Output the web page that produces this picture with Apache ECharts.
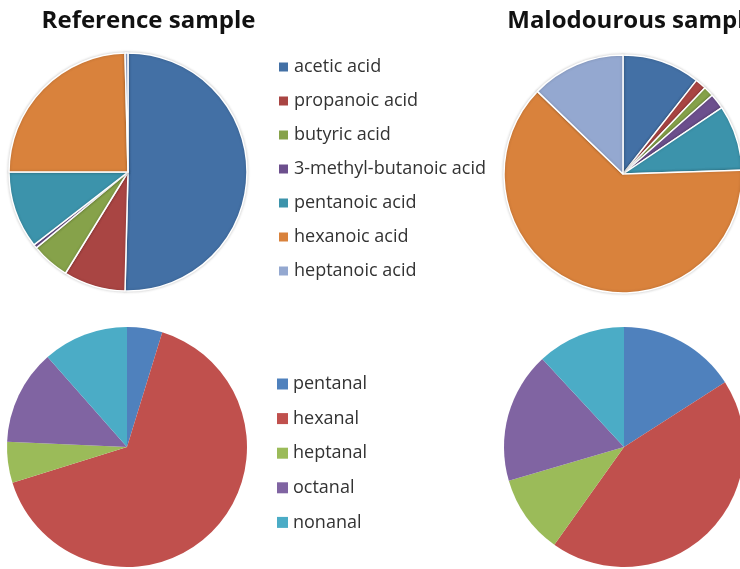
<!DOCTYPE html>
<html>
<head>
<meta charset="utf-8">
<script src="https://cdn.jsdelivr.net/npm/echarts@6/dist/echarts.min.js"></script>
<style>html,body{margin:0;padding:0;background:#fff}#chart{width:740px;height:569px}</style>
</head>
<body>
<div id="chart"></div>
<script>
const acidNames = ['acetic acid','propanoic acid','butyric acid','3-methyl-butanoic acid','pentanoic acid','hexanoic acid','heptanoic acid'];
const acidReference = [50.4, 8.4, 5.2, 0.5, 10.5, 24.6, 0.4];
const acidMalodourous = [10.6, 1.5, 1.4, 2.1, 8.9, 62.8, 12.8];
const aldehydeNames = ['pentanal','hexanal','heptanal','octanal','nonanal'];
const aldehydeReference = [4.75, 65.4, 5.5, 12.8, 11.5];
const aldehydeMalodourous = [15.9, 43.9, 10.6, 17.6, 11.9];
const titles = ['Reference sample','Malodourous sample'];

const acidColors = ['#4370a5','#a94543','#86a24a','#6c4f8d','#3c93ab','#d9823c','#94a8d0'];
const aldColors = ['#4f81bd','#c0504d','#9bbb59','#8064a2','#4bacc6'];

function mk(names, vals, colors){
  return names.map((n,i)=>({name:n, value:vals[i], itemStyle:{color:colors[i]}}));
}
const font = '"Open Sans", "Noto Sans", sans-serif';
const chart = echarts.init(document.getElementById('chart'));
const pieBase = {type:'pie', startAngle:90, clockwise:true, label:{show:false}, labelLine:{show:false}, animation:false, emphasis:{scale:false}};
chart.setOption({
  backgroundColor:'#fff',
  animation:false,
  title:[
    {text:titles[0], left:143.5, top:4, textAlign:'center', textStyle:{fontFamily:font, fontWeight:'bold', fontSize:24, color:'#111'}},
    {text:titles[1], left:628, top:4, textAlign:'center', textStyle:{fontFamily:font, fontWeight:'bold', fontSize:24, color:'#111'}}
  ],
  legend:[
    {data:acidNames, orient:'vertical', left:272, top:52, icon:'rect', itemWidth:11, itemHeight:11, itemGap:14,
     textStyle:{fontFamily:font, fontSize:18, color:'#333', lineHeight:20}},
    {data:aldehydeNames, orient:'vertical', left:272, top:369, icon:'rect', itemWidth:11, itemHeight:11, itemGap:14.6,
     textStyle:{fontFamily:font, fontSize:18, color:'#333', lineHeight:20}}
  ],
  series:[
    Object.assign({}, pieBase, {name:'acidRef', center:[128,172], radius:119, data:mk(acidNames, acidReference, acidColors),
      itemStyle:{borderColor:'#fff', borderWidth:1.5, shadowBlur:3, shadowColor:'rgba(0,0,0,0.2)'}}),
    Object.assign({}, pieBase, {name:'acidMal', center:[623,174], radius:119, data:mk(acidNames, acidMalodourous, acidColors),
      itemStyle:{borderColor:'#fff', borderWidth:1.5, shadowBlur:3, shadowColor:'rgba(0,0,0,0.2)'}}),
    Object.assign({}, pieBase, {name:'aldRef', center:[127,447], radius:120, data:mk(aldehydeNames, aldehydeReference, aldColors)}),
    Object.assign({}, pieBase, {name:'aldMal', center:[624,447], radius:120, data:mk(aldehydeNames, aldehydeMalodourous, aldColors)})
  ]
});
</script>
</body>
</html>
